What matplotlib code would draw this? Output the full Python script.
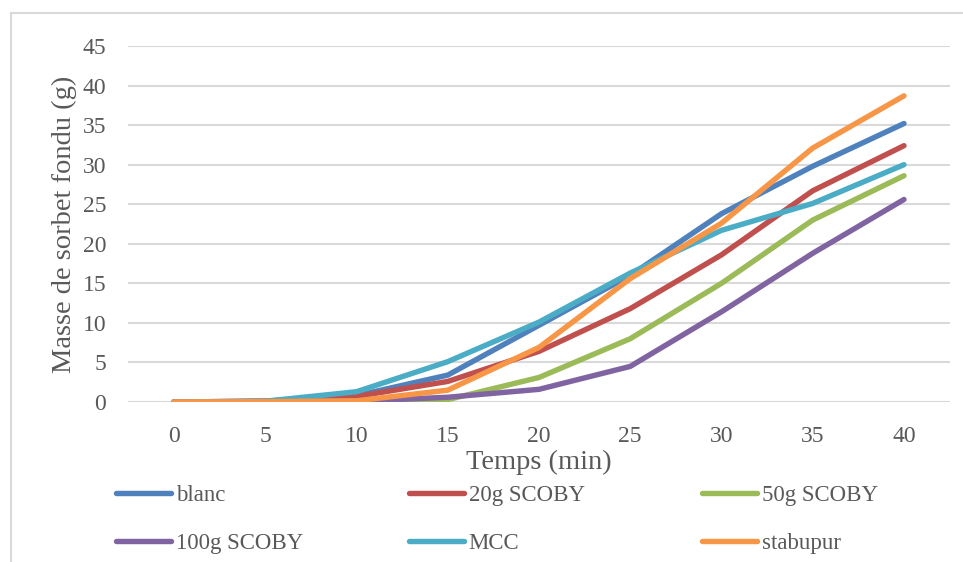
import matplotlib
matplotlib.use("Agg")
import matplotlib.pyplot as plt
from matplotlib.lines import Line2D

plt.rcParams['font.family'] = ['Liberation Serif', 'DejaVu Serif']

temps = ["0", "5", "10", "15", "20", "25", "30", "35", "40"]
blanc = [0, 0.1, 0.8, 3.4, 9.7, 16.0, 23.8, 29.8, 35.2]
scoby20 = [0, 0.1, 0.7, 2.6, 6.4, 11.8, 18.6, 26.7, 32.4]
scoby50 = [0, 0.05, 0.1, 0.3, 3.1, 8.0, 15.0, 23.0, 28.6]
scoby100 = [0, 0.05, 0.1, 0.6, 1.6, 4.5, 11.4, 18.8, 25.6]
mcc = [0, 0.1, 1.3, 5.1, 10.1, 16.3, 21.7, 25.1, 30.0]
stabupur = [0, 0.05, 0.15, 1.5, 6.9, 15.6, 22.6, 32.1, 38.7]

series = [
    ("blanc", blanc, "#4F81BD"),
    ("20g SCOBY", scoby20, "#C0504D"),
    ("50g SCOBY", scoby50, "#9BBB59"),
    ("100g SCOBY", scoby100, "#8064A2"),
    ("MCC", mcc, "#4BACC6"),
    ("stabupur", stabupur, "#F79646"),
]

W, H = 963, 562
fig = plt.figure(figsize=(W / 100, H / 100), dpi=100)
ax = fig.add_axes([128.4 / W, 1 - 402 / H, (949.6 - 128.4) / W, 356 / H])

handles = []
for name, vals, col in series:
    ln, = ax.plot(temps, vals, color=col, lw=3.9, solid_capstyle='round',
                  solid_joinstyle='round', label=name, zorder=3)
    handles.append(ln)

ax.set_xlim(-0.5, len(temps) - 0.5)
ax.set_ylim(0, 45)
ax.set_yticks(range(0, 46, 5))
ax.yaxis.grid(True, color="#D9D9D9", lw=1.5)
ax.set_axisbelow(True)
for s in ax.spines.values():
    s.set_visible(False)
ax.tick_params(axis='both', length=0, labelsize=17, labelcolor="#595959")
ax.tick_params(axis='y', pad=16)
ax.tick_params(axis='x', pad=17)

ax.set_ylabel("Masse de sorbet fondu (g)", fontsize=20.5, color="#595959", labelpad=4)
ax.set_xlabel("Temps (min)", fontsize=20.5, color="#595959", labelpad=2)

# legend: three equal-width columns
col_x = [116, 409, 702]
for i, cx in enumerate(col_x):
    hs = [handles[i], handles[i + 3]]
    leg = fig.legend(handles=hs, labels=[h.get_label() for h in hs],
                     loc='center left', bbox_to_anchor=(cx / W, 1 - 519.5 / H),
                     frameon=False, fontsize=16.5, handlelength=2.4,
                     handletextpad=0.2, labelspacing=1.15, borderpad=0,
                     borderaxespad=0)
    for t in leg.get_texts():
        t.set_color("#595959")

# chart area border (partially cropped)
fig.add_artist(Line2D([11 / W, 1], [1 - 13 / H, 1 - 13 / H], color="#D9D9D9", lw=1.5,
                      transform=fig.transFigure))
fig.add_artist(Line2D([11 / W, 11 / W], [0, 1 - 13 / H], color="#D9D9D9", lw=1.5,
                      transform=fig.transFigure))

fig.savefig("out.png", dpi=100, facecolor="white")
